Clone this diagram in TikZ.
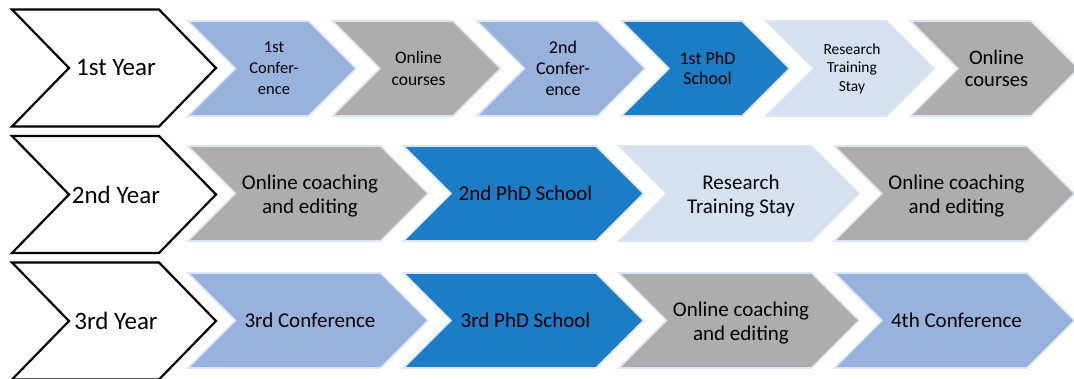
\documentclass[tikz,border=0pt]{standalone}
\usepackage{fontspec}
\setmainfont{Carlito}
\definecolor{lb}{HTML}{98B2DE}
\definecolor{gr}{HTML}{ADADAD}
\definecolor{db}{HTML}{1C7DC6}
\definecolor{pb}{HTML}{D5E0F0}
\definecolor{edge}{HTML}{DCE5F3}
\tikzset{
  yearbox/.style={draw=black, fill=white, line width=2.2pt, line join=miter},
  stepfill/.style={draw=edge, line width=1.6pt, line join=miter, fill=#1},
  lbl/.style={inner sep=0pt, align=center, text=black},
  yeartxt/.style={font=\fontsize{25}{30}\selectfont},
  bigtxt/.style={font=\fontsize{21}{24}\selectfont},
  twoline/.style={font=\fontsize{21}{24}\selectfont, yshift=-2.5pt},
}
% #1 name, #2 left x, #3 centre y, #4 width, #5 half height, #6 depth, #7 path style, #8 node options, #9 text
\newcommand{\drawchev}[9]{%
  \path[#7] (#2,#3-#5) -- (#2+#4-#6,#3-#5) -- (#2+#4,#3) -- (#2+#4-#6,#3+#5) -- (#2,#3+#5) -- (#2+#6,#3) -- cycle;
  \node[lbl, #8] (#1) at (#2+#4/2+2,#3) {#9};
}
\begin{document}
\begin{tikzpicture}[x=1pt,y=-1pt]
\useasboundingbox (0,0) rectangle (1074,378);
\clip (0,0) rectangle (1074,378);
% year chevrons
\drawchev{y1}{12}{68}{204}{58.5}{57}{yearbox}{yeartxt}{1st Year}
\drawchev{y2}{12}{194.5}{204}{58.5}{57}{yearbox}{yeartxt}{2nd Year}
\drawchev{y3}{12}{321}{204}{58.5}{57}{yearbox}{yeartxt}{3rd Year}
% row 1
\drawchev{a1}{188}{68.5}{168}{47.5}{47.5}{stepfill=lb}{font=\fontsize{16.5}{21}\selectfont}{1st\\Confer-\\ence}
\drawchev{a2}{332.5}{68.5}{168}{47.5}{47.5}{stepfill=gr}{font=\fontsize{17.5}{21.5}\selectfont}{Online\\courses}
\drawchev{a3}{477}{68.5}{168}{47.5}{47.5}{stepfill=lb}{font=\fontsize{18}{21}\selectfont}{2nd\\Confer-\\ence}
\drawchev{a4}{621.5}{68.5}{168}{47.5}{47.5}{stepfill=db}{font=\fontsize{18}{20.5}\selectfont}{1st PhD\\School}
\drawchev{a5}{766}{68.5}{168}{47.5}{47.5}{stepfill=pb}{font=\fontsize{15.5}{18.5}\selectfont}{Research\\Training\\Stay}
\drawchev{a6}{910.5}{68.5}{168}{47.5}{47.5}{stepfill=gr}{font=\fontsize{20.6}{22.5}\selectfont}{Online\\courses}
% row 2
\drawchev{b1}{188}{193.5}{240}{47.5}{47.5}{stepfill=gr}{twoline}{Online coaching\\and editing}
\drawchev{b2}{403.5}{193.5}{240}{47.5}{47.5}{stepfill=db}{bigtxt}{2nd PhD School}
\drawchev{b3}{619}{193.5}{240}{47.5}{47.5}{stepfill=pb}{twoline}{Research\\Training Stay}
\drawchev{b4}{834.5}{193.5}{240}{47.5}{47.5}{stepfill=gr}{twoline}{Online coaching\\and editing}
% row 3
\drawchev{c1}{188}{320.5}{240}{47.5}{47.5}{stepfill=lb}{bigtxt}{3rd Conference}
\drawchev{c2}{403.5}{320.5}{240}{47.5}{47.5}{stepfill=db}{bigtxt}{3rd PhD School}
\drawchev{c3}{619}{320.5}{240}{47.5}{47.5}{stepfill=gr}{twoline}{Online coaching\\and editing}
\drawchev{c4}{834.5}{320.5}{240}{47.5}{47.5}{stepfill=lb}{bigtxt}{4th Conference}
\end{tikzpicture}
\end{document}
